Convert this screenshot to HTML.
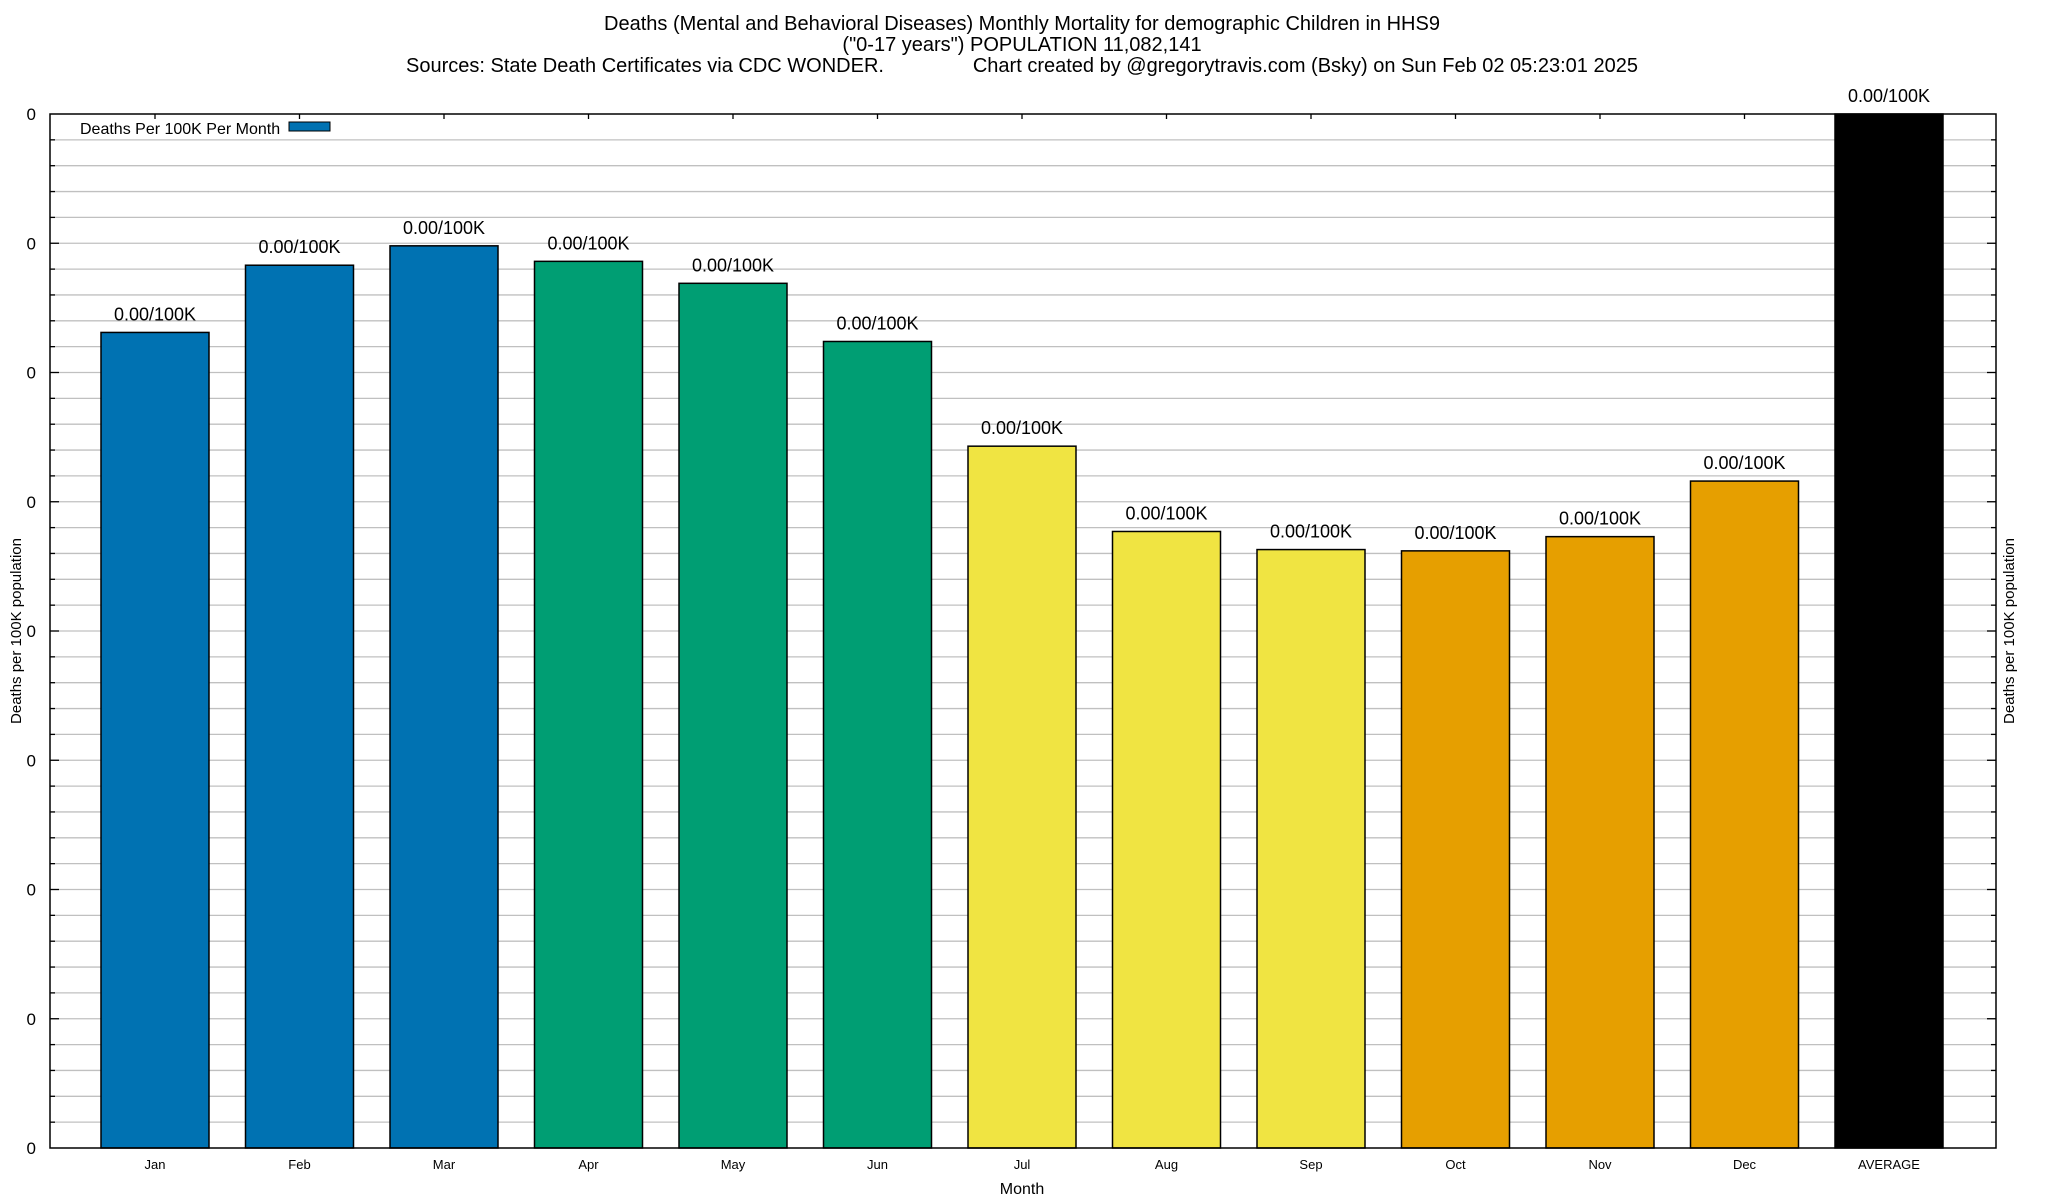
<!DOCTYPE html>
<html><head><meta charset="utf-8">
<style>
html,body{margin:0;padding:0;background:#fff;}
svg{display:block;font-family:"Liberation Sans",Arial,sans-serif;}
</style></head>
<body>
<svg id="chart" width="2048" height="1200" viewBox="0 0 2048 1200">
<g font-size="20" text-anchor="middle" fill="#000">
<text x="1022" y="30">Deaths (Mental and Behavioral Diseases) Monthly Mortality for demographic Children in HHS9</text>
<text x="1022" y="51">("0-17 years") POPULATION 11,082,141</text>
<text x="1022" y="72" xml:space="preserve">Sources: State Death Certificates via CDC WONDER.                Chart created by @gregorytravis.com (Bsky) on Sun Feb 02 05:23:01 2025</text>
</g>
<g id="grid"></g>
<g id="bars"></g>
<g id="axes"></g>
<g>
<text x="80" y="134" font-size="16">Deaths Per 100K Per Month</text>
<rect x="289" y="122" width="41" height="9" fill="#0072b2" stroke="#000" stroke-width="1"/>
</g>
<text x="1022" y="1194" font-size="16" text-anchor="middle">Month</text>
<text transform="translate(21,631) rotate(-90)" font-size="15" text-anchor="middle">Deaths per 100K population</text>
<text transform="translate(2014,631) rotate(-90)" font-size="15" text-anchor="middle">Deaths per 100K population</text>
</svg>
<script>
const categories = ["Jan","Feb","Mar","Apr","May","Jun","Jul","Aug","Sep","Oct","Nov","Dec","AVERAGE"];
const values = [6.31,6.83,6.98,6.86,6.69,6.24,5.43,4.77,4.63,4.62,4.73,5.16,8.0];
const valueLabels = ["0.00/100K","0.00/100K","0.00/100K","0.00/100K","0.00/100K","0.00/100K","0.00/100K","0.00/100K","0.00/100K","0.00/100K","0.00/100K","0.00/100K","0.00/100K"];
const barColors = ["#0072b2","#0072b2","#0072b2","#009e73","#009e73","#009e73","#f0e442","#f0e442","#f0e442","#e69f00","#e69f00","#e69f00","#000000"];
const yTicks = [0,1,2,3,4,5,6,7,8];
const yTickLabels = ["0","0","0","0","0","0","0","0","0"];

const NS="http://www.w3.org/2000/svg";
const L=50,R=1996,T=114,B=1148,yMax=8;
const y=v=>B-(Math.min(v,yMax)/yMax)*(B-T);
const x=i=>155+i*144.5;
const BW=108;
function mk(tag,attrs,parent){const e=document.createElementNS(NS,tag);for(const k in attrs)e.setAttribute(k,attrs[k]);parent.appendChild(e);return e;}
const grid=document.getElementById('grid'),bars=document.getElementById('bars'),axes=document.getElementById('axes');
for(let i=0;i<yTicks.length-1;i++){
  for(let j=0;j<5;j++){
    const v=yTicks[i]+j/5*(yTicks[i+1]-yTicks[i]);
    if(v===0)continue;
    const gl=mk('line',{x1:L,x2:R,y1:y(v),y2:y(v),stroke:'#c0c0c0','stroke-width':1.3},grid);
    
    
    const tl=mk('line',{x1:L,x2:L+(j===0?9:5),y1:y(v),y2:y(v),stroke:'#000','stroke-width':1.3},axes);
    
    
    const tr=mk('line',{x1:R,x2:R-(j===0?9:5),y1:y(v),y2:y(v),stroke:'#000','stroke-width':1.3},axes);
    
    
  }
}
yTicks.forEach((v,i)=>{
  const t=mk('text',{x:L-14,y:y(v)+6,'font-size':17,'text-anchor':'end'},axes);
  t.textContent=yTickLabels[i];
  
  
});
categories.forEach((c,i)=>{
  const top=y(values[i]);
  const r=mk('rect',{x:x(i)-BW/2,y:top,width:BW,height:B-top,fill:barColors[i],stroke:'#000','stroke-width':1.5},bars);
  
  
  const lb=mk('text',{x:x(i),y:top-12,'font-size':18,'text-anchor':'middle'},bars);
  lb.textContent=valueLabels[i];
  
  
  const xl=mk('text',{x:x(i),y:1169,'font-size':13,'text-anchor':'middle'},axes);
  xl.textContent=c;
  
  
  const tt=mk('line',{x1:x(i),x2:x(i),y1:T,y2:T+5,stroke:'#000','stroke-width':1.3},axes);
  
  
});
const frame=mk('rect',{x:L,y:T,width:R-L,height:B-T,fill:'none',stroke:'#000','stroke-width':1.5},axes);


</script>
</body></html>
